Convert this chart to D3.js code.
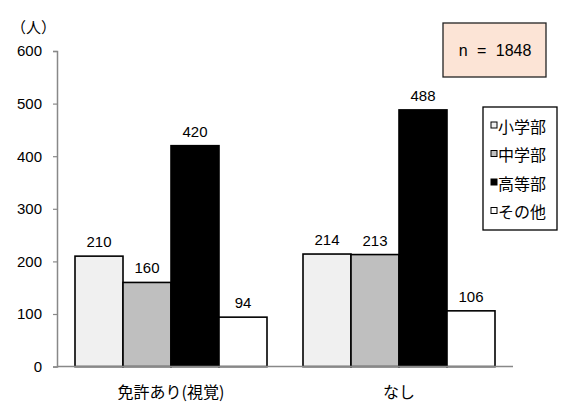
<!DOCTYPE html>
<html><head><meta charset="utf-8">
<script src="https://cdn.jsdelivr.net/npm/d3@7"></script>
<style>body{margin:0;background:#fff}svg{display:block}text{font-family:"Noto Sans CJK JP","Noto Sans",sans-serif;fill:#000}.num{font-family:"Liberation Sans",Arial,sans-serif}</style>
</head><body>
<script>
const categories = ["免許あり(視覚)", "なし"];
const seriesNames = ["小学部", "中学部", "高等部", "その他"];
const seriesColors = ["#f0f0f0", "#bfbfbf", "#000000", "#ffffff"];
const values = [[210, 160, 420, 94], [214, 213, 488, 106]];
const yTicks = [0, 100, 200, 300, 400, 500, 600];

const W = 572, H = 411;
const svg = d3.select("body").append("svg").attr("width", W).attr("height", H);
const x0 = d3.scaleBand().domain(categories).range([57, 513]).paddingInner(0).paddingOuter(0);
const x1 = d3.scaleBand().domain(seriesNames).range([18, x0.bandwidth() - 18]);
const y = d3.scaleLinear().domain([0, 600]).range([366.6, 51]);

// y axis
const yAxis = svg.append("g").attr("transform", "translate(57,0)")
  .call(d3.axisLeft(y).tickValues(yTicks).tickSize(4).tickPadding(11));
yAxis.select(".domain").attr("stroke", "#888").attr("stroke-width", 1.5);
yAxis.selectAll(".tick line").attr("stroke", "#888").attr("stroke-width", 1.2);
yAxis.selectAll(".tick text").attr("class", "num").style("font-size", "15px").attr("fill", "#000");

svg.append("text").attr("x", 11).attr("y", 33).style("font-size", "15px").text("（人）");

// groups
const g = svg.append("g").selectAll("g").data(categories).join("g")
  .attr("transform", d => `translate(${x0(d)},0)`);
g.selectAll("rect").data((d, i) => values[i].map((v, j) => ({v, s: seriesNames[j], c: seriesColors[j]})))
  .join("rect")
  .attr("x", d => x1(d.s)).attr("width", x1.bandwidth())
  .attr("y", d => y(d.v)).attr("height", d => y(0) - y(d.v))
  .attr("fill", d => d.c).attr("stroke", "#000").attr("stroke-width", 1.6);
g.selectAll("text.val").data((d, i) => values[i].map((v, j) => ({v, s: seriesNames[j]})))
  .join("text").attr("class", "num")
  .attr("x", d => x1(d.s) + x1.bandwidth() / 2).attr("y", d => y(d.v) - 9)
  .attr("text-anchor", "middle").style("font-size", "15px")
  .text(d => d.v);

// x axis line
svg.append("line").attr("x1", 57).attr("x2", 513).attr("y1", y(0)).attr("y2", y(0)).attr("stroke", "#888").attr("stroke-width", 1.5);

// category labels
svg.selectAll("text.cat").data(categories).join("text").attr("class", "cat")
  .attr("x", d => x0(d) + x0.bandwidth() / 2).attr("y", 398)
  .attr("text-anchor", "middle").style("font-size", "16px").text(d => d);

// n box
svg.append("rect").attr("x", 443).attr("y", 23).attr("width", 103).attr("height", 54)
  .attr("fill", "#fce4d6").attr("stroke", "#222").attr("stroke-width", 1.3);
svg.append("text").attr("class", "num").attr("x", 495).attr("y", 56).attr("text-anchor", "middle")
  .style("font-size", "16px").style("word-spacing", "5px").text("n = 1848");

// legend
svg.append("rect").attr("x", 483).attr("y", 107).attr("width", 74).attr("height", 123)
  .attr("fill", "#fff").attr("stroke", "#000").attr("stroke-width", 1.3);
const lg = svg.append("g").selectAll("g").data(seriesNames).join("g")
  .attr("transform", (d, i) => `translate(491,${127 + i * 28.5})`);
lg.append("rect").attr("x", 0).attr("y", -5).attr("width", 6).attr("height", 6)
  .attr("fill", (d, i) => seriesColors[i]).attr("stroke", "#000").attr("stroke-width", 1);
lg.append("text").attr("x", 7).attr("y", 0).attr("dy", "0.35em").style("font-size", "16px").text(d => d);
</script>
</body></html>
